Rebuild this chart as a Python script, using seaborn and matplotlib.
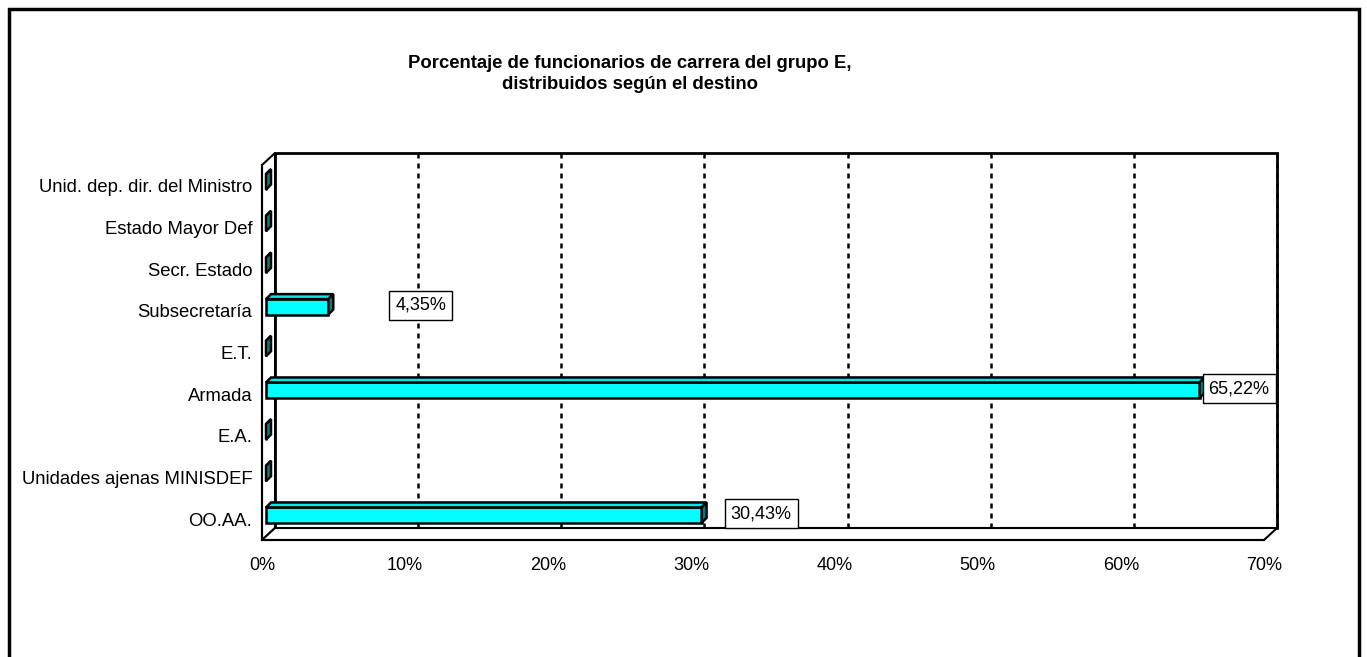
import matplotlib

matplotlib.use("Agg")
import matplotlib.pyplot as plt
import numpy as np
import pandas as pd
import seaborn as sns
from matplotlib.patches import Polygon, Rectangle

categories = [
    "Unid. dep. dir. del Ministro",
    "Estado Mayor Def",
    "Secr. Estado",
    "Subsecretaría",
    "E.T.",
    "Armada",
    "E.A.",
    "Unidades ajenas MINISDEF",
    "OO.AA.",
]
values = [0.0, 0.0, 0.0, 4.35, 0.0, 65.22, 0.0, 0.0, 30.43]
label_text = ["", "", "", "4,35%", "", "65,22%", "", "", "30,43%"]
label_dx_px = [0, 0, 0, 62, 0, 4, 0, 0, 24]
x_ticks = [0, 10, 20, 30, 40, 50, 60, 70]
x_ticklabels = ["0%", "10%", "20%", "30%", "40%", "50%", "60%", "70%"]
title = "Porcentaje de funcionarios de carrera del grupo E,\ndistribuidos según el destino"

sns.set_style("white")
plt.rcParams["font.family"] = ["Liberation Sans", "DejaVu Sans"]
for k in ["text.color", "axes.labelcolor", "xtick.color", "ytick.color"]:
    plt.rcParams[k] = "black"

W, H = 1367, 657
fig = plt.figure(figsize=(W / 100, H / 100), dpi=100)
left_px, right_px, top_px, bottom_px = 262, 1264, 165, 540
ax = fig.add_axes([left_px / W, (H - bottom_px) / H,
                   (right_px - left_px) / W, (bottom_px - top_px) / H])

df = pd.DataFrame({"destino": categories, "pct": values})
sns.barplot(data=df, x="pct", y="destino", orient="h", color="#00FFFF",
            saturation=1, width=0.37, edgecolor="black", linewidth=1.8, ax=ax,
            zorder=3)

n = len(categories)
ax.set_xlim(0, 70)
ax.set_ylim(n - 0.5, -0.5)
ax.set_xlabel("")
ax.set_ylabel("")

# pixel -> data conversions
px_x = (right_px - left_px) / 70
px_y = (bottom_px - top_px) / n
DX, DY = 13 / px_x, 12 / px_y
ox, oy = 4 / px_x, 4 / px_y
bx, by = 5 / px_x, 5 / px_y

y0, y1 = -0.5, n - 0.5
# back wall
ax.add_patch(Rectangle((DX, y0 - DY), 70, n, fc="white", ec="black", lw=2,
                       zorder=0.5, clip_on=False))
# left wall
ax.add_patch(Polygon([(0, y0), (DX, y0 - DY), (DX, y1 - DY), (0, y1)],
                     closed=True, fc="white", ec="black", lw=1.5, zorder=1,
                     clip_on=False))
# floor
ax.add_patch(Polygon([(0, y1), (DX, y1 - DY), (70 + DX, y1 - DY), (70, y1)],
                     closed=True, fc="white", ec="black", lw=1.5, zorder=1,
                     clip_on=False))
# gridlines on back wall
for t in x_ticks[1:]:
    ax.plot([t + DX, t + DX], [y0 - DY, y1 - DY], color="black", lw=1.8,
            linestyle=(0, (2, 2)), zorder=1.5, clip_on=False)

# 3D faces for bars
for p in ax.patches:
    if not isinstance(p, Rectangle) or p.get_zorder() != 3:
        continue
    p.set_x(p.get_x() + ox)
    p.set_y(p.get_y() - oy)
    x_a = p.get_x()
    x_b = x_a + p.get_width()
    y_t = p.get_y()
    y_b = y_t + p.get_height()
    top = Polygon([(x_a, y_t), (x_a + bx, y_t - by), (x_b + bx, y_t - by), (x_b, y_t)],
                  closed=True, fc="#00E8E8", ec="black", lw=1.8, zorder=3)
    side = Polygon([(x_b, y_t), (x_b + bx, y_t - by), (x_b + bx, y_b - by), (x_b, y_b)],
                   closed=True, fc="#008080", ec="black", lw=1.8, zorder=3)
    ax.add_patch(top)
    ax.add_patch(side)

# data labels
for i, (v, txt, dx) in enumerate(zip(values, label_text, label_dx_px)):
    if not txt:
        continue
    ax.annotate(txt, xy=(v + ox + bx, i), xytext=(dx * 0.72, 4),
                textcoords="offset points", ha="left", va="center", fontsize=13,
                bbox=dict(boxstyle="square,pad=0.33", fc="white", ec="black", lw=1),
                zorder=5, annotation_clip=False)

for s in ["top", "right"]:
    ax.spines[s].set_visible(False)
for s in ["left", "bottom"]:
    ax.spines[s].set_linewidth(1.5)
    ax.spines[s].set_color("black")
    ax.spines[s].set_zorder(2)

ax.set_xticks(x_ticks)
ax.set_xticklabels(x_ticklabels, fontsize=13)
ax.tick_params(axis="x", direction="in", length=5, width=1, pad=12)
ax.set_yticks(np.arange(n))
ax.set_yticklabels(categories, fontsize=13.3)
ax.tick_params(axis="y", which="major", length=0, pad=7)
ax.set_yticks(np.arange(n + 1) - 0.5, minor=True)
ax.tick_params(axis="y", which="minor", direction="out", length=7, width=1)

fig.text(630 / W, 1 - 74 / H, title, ha="center", va="center", fontsize=13.3,
         fontweight="bold", linespacing=1.3)

fig.patches.append(Rectangle((8.5 / W, -0.05), (1359 - 8.5) / W, 1.05 - 8.5 / H,
                             transform=fig.transFigure, fill=False, ec="black",
                             lw=2.5))

fig.savefig("out.png", dpi=100)
